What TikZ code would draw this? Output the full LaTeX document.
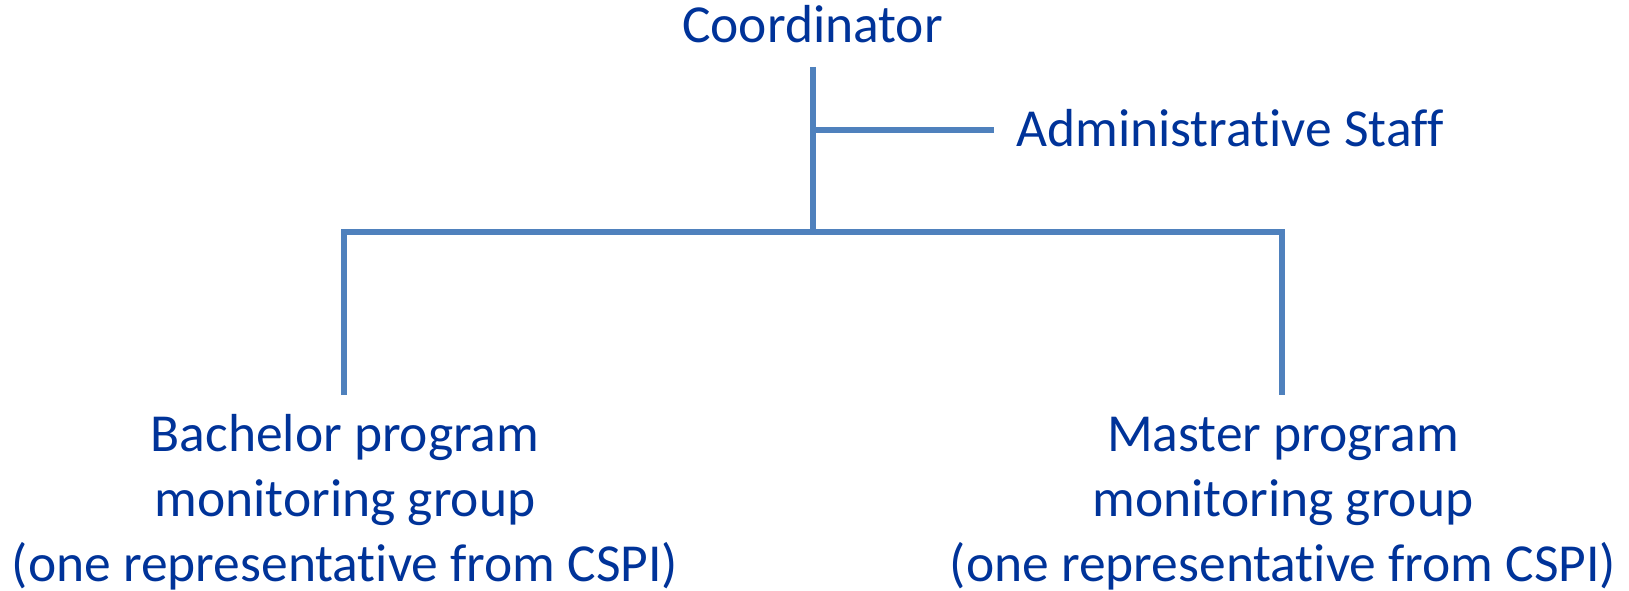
\documentclass[tikz,border=0pt]{standalone}
\usepackage{fontspec}
\setmainfont[Ligatures={NoCommon}]{Carlito}
\definecolor{txtblue}{RGB}{0,51,153}
\definecolor{lineblue}{RGB}{79,129,189}
\begin{document}
\begin{tikzpicture}[x=1pt,y=-1pt,
  lbl/.style={font=\fontsize{53.5}{65}\selectfont, text=txtblue, inner sep=0pt, anchor=base, align=center},
  conn/.style={draw=lineblue, line width=6pt}]
\useasboundingbox (0,0) rectangle (1629,591);
\node[lbl] (coord) at (812.5,42.7) {Coordinator};
\node[lbl, anchor=base west] (admin) at (1016,146.7) {Administrative Staff};
\node[lbl] (bach) at (345,581) {Bachelor program\\monitoring group\\(one representative from CSPI)};
\node[lbl] (mast) at (1283,581) {Master program\\monitoring group\\(one representative from CSPI)};
\coordinate (ctop) at (812.5,67);
\coordinate (cadm) at (812.5,130);
\coordinate (cadmend) at (994,130);
\coordinate (cmid) at (812.5,232);
\coordinate (barL) at (343.5,232);
\coordinate (barR) at (1282,232);
\coordinate (bachtop) at (343.5,395);
\coordinate (masttop) at (1282,395);
\draw[conn] (ctop) -- (cmid);
\draw[conn] (cadm) -- (cadmend);
\draw[conn] (bachtop) -- (barL) -- (barR) -- (masttop);
\end{tikzpicture}
\end{document}
